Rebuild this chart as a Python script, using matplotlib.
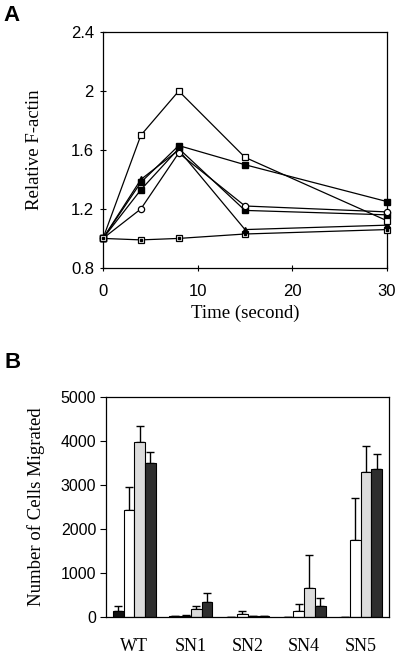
import matplotlib
matplotlib.use("Agg")
import matplotlib.pyplot as plt
import numpy as np

# Panel A: relative F-actin over time
time_s = [0, 4, 8, 15, 30]
series_open_sq = [1.0, 1.70, 2.00, 1.55, 1.12]
series_fill_sq = [1.0, 1.38, 1.63, 1.50, 1.25]
series_open_circ = [1.0, 1.20, 1.58, 1.22, 1.18]
series_fill_sq2 = [1.0, 1.33, 1.61, 1.19, 1.16]
series_fill_tri = [1.0, 1.40, 1.60, 1.06, 1.09]
series_dot_sq = [1.0, 0.99, 1.00, 1.03, 1.06]

# Panel B: number of cells migrated
strains = ["WT", "SN1", "SN2", "SN4", "SN5"]
bar_black = [140, 15, 5, 5, 5]
bar_black_err = [105, 10, 5, 0, 0]
bar_white = [2440, 30, 75, 135, 1760]
bar_white_err = [510, 10, 70, 165, 950]
bar_light = [3965, 175, 15, 665, 3295]
bar_light_err = [375, 75, 5, 740, 600]
bar_dark = [3490, 345, 15, 260, 3365]
bar_dark_err = [250, 190, 5, 165, 340]

SANS = "Liberation Sans"
SERIF = "Liberation Serif"

fig = plt.figure(figsize=(4.0, 6.55), dpi=100)

# ---- Panel A ----
ax1 = fig.add_axes([0.2575, 0.591, 0.71, 0.36])
lw = 0.9
ms = 4.5
ax1.plot(time_s, series_dot_sq, color="black", lw=lw, marker="s", ms=ms - 0.5,
         mfc="white", mec="black", mew=0.9, zorder=3)
ax1.plot(time_s, series_dot_sq, color="none", marker="s", ms=1.5,
         mfc="black", mec="black", zorder=4)
ax1.plot(time_s, series_fill_tri, color="black", lw=lw, marker="^", ms=ms,
         mfc="black", mec="black", zorder=3)
ax1.plot(time_s, series_fill_sq2, color="black", lw=lw, marker="s", ms=ms,
         mfc="black", mec="black", zorder=3)
ax1.plot(time_s, series_open_circ, color="black", lw=lw, marker="o", ms=ms,
         mfc="white", mec="black", mew=0.9, zorder=3)
ax1.plot(time_s, series_fill_sq, color="black", lw=lw, marker="s", ms=ms,
         mfc="black", mec="black", zorder=3)
ax1.plot(time_s, series_open_sq, color="black", lw=lw, marker="s", ms=ms,
         mfc="white", mec="black", mew=0.9, zorder=3)

ax1.set_xlim(0, 30)
ax1.set_ylim(0.8, 2.4)
ax1.set_xticks([0, 10, 20, 30])
ax1.set_yticks([0.8, 1.2, 1.6, 2.0, 2.4])
ax1.set_yticklabels(["0.8", "1.2", "1.6", "2", "2.4"])
ax1.tick_params(direction="inout", length=5, width=0.8, labelsize=12, pad=4)
for lab in ax1.get_xticklabels() + ax1.get_yticklabels():
    lab.set_family(SANS)
ax1.tick_params(axis="x", pad=9)
for sp in ax1.spines.values():
    sp.set_linewidth(0.9)
ax1.set_xlabel("Time (second)", family=SERIF, fontsize=13.5, labelpad=4)
ax1.set_ylabel("Relative F-actin", family=SERIF, fontsize=13.5, labelpad=20)
for line in ax1.lines:
    line.set_clip_on(False)

# ---- Panel B ----
ax2 = fig.add_axes([0.265, 0.058, 0.7075, 0.336])
x = np.arange(len(strains))
bw = 0.19
groups = [
    (bar_black, bar_black_err, "#111111"),
    (bar_white, bar_white_err, "white"),
    (bar_light, bar_light_err, "#dcdcdc"),
    (bar_dark, bar_dark_err, "#2e2e2e"),
]
for i, (vals, errs, col) in enumerate(groups):
    pos = x + (i - 1.5) * bw
    ax2.bar(pos, vals, width=bw, color=col, edgecolor="black", linewidth=0.8, zorder=2)
    ax2.errorbar(pos, vals, yerr=[np.zeros(len(vals)), errs], fmt="none",
                 ecolor="black", elinewidth=1.0, capsize=3, capthick=1.0, zorder=1)

ax2.set_xlim(-0.5, 4.5)
ax2.set_ylim(0, 5000)
ax2.set_yticks([0, 1000, 2000, 3000, 4000, 5000])
ax2.set_xticks(x)
ax2.set_xticklabels(strains, family=SERIF, fontsize=13)
ax2.tick_params(axis="x", length=0, pad=15)
ax2.tick_params(axis="y", direction="out", length=4, width=0.8, labelsize=11.5, pad=3)
for lab in ax2.get_yticklabels():
    lab.set_family(SANS)
for sp in ax2.spines.values():
    sp.set_linewidth(0.9)
ax2.set_ylabel("Number of Cells Migrated", family=SERIF, fontsize=13.5, labelpad=11)

# panel letters
fig.text(0.008, 0.993, "A", family=SANS, fontweight="bold", fontsize=16, va="top")
fig.text(0.012, 0.462, "B", family=SANS, fontweight="bold", fontsize=16, va="top")

fig.savefig("out.png", dpi=100)
